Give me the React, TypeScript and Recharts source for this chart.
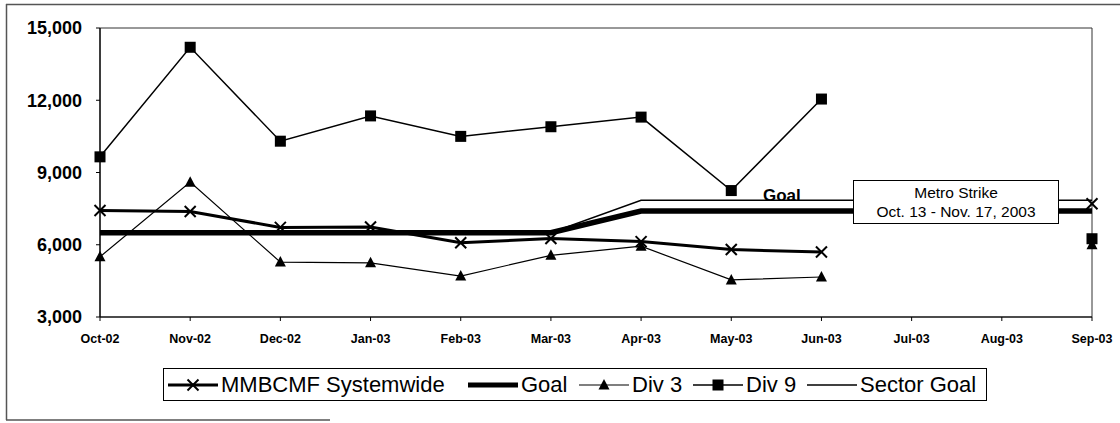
import React from 'react';
import { LineChart, Line, XAxis, YAxis, ReferenceArea } from 'recharts';

const months = ['Oct-02', 'Nov-02', 'Dec-02', 'Jan-03', 'Feb-03', 'Mar-03', 'Apr-03', 'May-03', 'Jun-03', 'Jul-03', 'Aug-03', 'Sep-03'];
const systemwide: (number | null)[] = [7420, 7380, 6720, 6740, 6080, 6260, 6130, 5800, 5700, null, null, 7700];
const goal: (number | null)[] = [6500, 6500, 6500, 6500, 6500, 6500, 7400, 7400, 7400, 7400, 7400, 7400];
const div3: (number | null)[] = [5500, 8600, 5280, 5250, 4700, 5560, 5940, 4540, 4660, null, null, 6000];
const div9: (number | null)[] = [9650, 14200, 10300, 11350, 10500, 10900, 11300, 8250, 12050, null, null, 6250];
const sectorGoal: (number | null)[] = [6500, 6500, 6500, 6500, 6500, 6500, 7850, 7850, 7850, 7850, 7850, 7850];
const yTicks = [3000, 6000, 9000, 12000, 15000];

const seriesNames = ['MMBCMF Systemwide', 'Goal', 'Div 3', 'Div 9', 'Sector Goal'];

const data = months.map((m, i) => ({
  month: m,
  systemwide: systemwide[i],
  goal: goal[i],
  div3: div3[i],
  div9: div9[i],
  sectorGoal: sectorGoal[i],
}));

const FONT = '"Liberation Sans", Arial, sans-serif';

const XMark = ({ cx, cy }: { cx: number; cy: number }) => (
  <g>
    <line x1={cx - 5.5} y1={cy - 5.5} x2={cx + 5.5} y2={cy + 5.5} stroke="#000" strokeWidth={2} />
    <line x1={cx - 5.5} y1={cy + 5.5} x2={cx + 5.5} y2={cy - 5.5} stroke="#000" strokeWidth={2} />
  </g>
);
const TriMark = ({ cx, cy }: { cx: number; cy: number }) => (
  <polygon points={`${cx},${cy - 6} ${cx - 5.5},${cy + 4.5} ${cx + 5.5},${cy + 4.5}`} fill="#000" />
);
const SqMark = ({ cx, cy }: { cx: number; cy: number }) => (
  <rect x={cx - 5.5} y={cy - 5.5} width={11} height={11} fill="#000" />
);

const makeDot = (Comp: any, name: string) => (props: any) => {
  const { cx, cy, index } = props;
  if (cx == null || cy == null || props.value == null || Number.isNaN(cy)) return <g key={`${name}-${index}`} />;
  return (
    <g key={`${name}-${index}`}>
      <Comp cx={cx} cy={cy} />
    </g>
  );
};

const LegendSwatch = ({ kind }: { kind: number }) => {
  const w = 50;
  return (
    <svg width={w} height={20} style={{ display: 'block' }}>
      {kind === 0 && (
        <>
          <line x1={0} y1={10} x2={w} y2={10} stroke="#000" strokeWidth={3} />
          <XMark cx={w / 2} cy={10} />
        </>
      )}
      {kind === 1 && <line x1={0} y1={10} x2={w} y2={10} stroke="#000" strokeWidth={5} />}
      {kind === 2 && (
        <>
          <line x1={0} y1={10} x2={w} y2={10} stroke="#000" strokeWidth={1.2} />
          <TriMark cx={w / 2} cy={10} />
        </>
      )}
      {kind === 3 && (
        <>
          <line x1={0} y1={10} x2={w} y2={10} stroke="#000" strokeWidth={1.5} />
          <SqMark cx={w / 2} cy={10} />
        </>
      )}
      {kind === 4 && <line x1={0} y1={10} x2={w} y2={10} stroke="#000" strokeWidth={1.5} />}
    </svg>
  );
};

const legendLefts = [4, 304, 415, 529, 643];

export default function App() {
  return (
    <div style={{ position: 'absolute', left: 0, top: 0, width: 1120, height: 423, background: '#fff', fontFamily: FONT }}>
      <LineChart
        width={1120}
        height={423}
        data={data}
        margin={{ top: 28, right: 28, left: 0, bottom: 76 }}
      >
        <ReferenceArea x1="Oct-02" x2="Sep-03" y1={3000} y2={15000} fill="none" stroke="#333" strokeWidth={1} ifOverflow="visible" />
        <XAxis
          dataKey="month"
          interval={0}
          height={30}
          tickSize={4}
          tickMargin={13}
          axisLine={{ stroke: '#000', strokeWidth: 1.2 }}
          tickLine={{ stroke: '#000' }}
          tick={{ fill: '#000', fontSize: 12.5, fontWeight: 700, fontFamily: FONT }}
        />
        <YAxis
          domain={[3000, 15000]}
          ticks={yTicks}
          width={100}
          tickSize={4}
          tickMargin={14}
          axisLine={{ stroke: '#000', strokeWidth: 1.2 }}
          tickLine={{ stroke: '#000' }}
          tick={{ fill: '#000', fontSize: 18, fontWeight: 700, fontFamily: FONT }}
          tickFormatter={(v: number) => v.toLocaleString('en-US')}
        />
        <Line dataKey="systemwide" name={seriesNames[0]} stroke="#000" strokeWidth={3} dot={makeDot(XMark, 'sw')} isAnimationActive={false} connectNulls={false} />
        <Line dataKey="goal" name={seriesNames[1]} stroke="#000" strokeWidth={5.5} dot={false} isAnimationActive={false} />
        <Line dataKey="div3" name={seriesNames[2]} stroke="#000" strokeWidth={1.2} dot={makeDot(TriMark, 'd3')} isAnimationActive={false} connectNulls={false} />
        <Line dataKey="div9" name={seriesNames[3]} stroke="#000" strokeWidth={1.5} dot={makeDot(SqMark, 'd9')} isAnimationActive={false} connectNulls={false} />
        <Line dataKey="sectorGoal" name={seriesNames[4]} stroke="#000" strokeWidth={1.5} dot={false} isAnimationActive={false} />
      </LineChart>

      <svg width={1120} height={423} style={{ position: 'absolute', left: 0, top: 0, pointerEvents: 'none' }}>
        <line x1={6.5} y1={4} x2={6.5} y2={420} stroke="#555" strokeWidth={1.5} />
        <line x1={6} y1={4.5} x2={1120} y2={4.5} stroke="#555" strokeWidth={1.5} />
        <line x1={6} y1={420} x2={330} y2={420} stroke="#555" strokeWidth={1.5} />
        <text x={763} y={201} fontFamily={FONT} fontSize={17} fontWeight={700} fill="#000">Goal</text>
        <rect x={853.5} y={180.5} width={205} height={43} fill="#fff" stroke="#000" strokeWidth={1} />
        <text x={956} y={198} textAnchor="middle" fontFamily={FONT} fontSize={15.5} fill="#000">Metro Strike</text>
        <text x={956} y={217} textAnchor="middle" fontFamily={FONT} fontSize={15.5} fill="#000">Oct. 13 - Nov. 17, 2003</text>
      </svg>

      <div
        style={{
          position: 'absolute',
          left: 163,
          top: 368,
          width: 824,
          height: 33,
          border: '1px solid #000',
          boxSizing: 'border-box',
          background: '#fff',
        }}
      >
        {seriesNames.map((n, i) => (
          <div
            key={n}
            style={{
              position: 'absolute',
              left: legendLefts[i],
              top: 0,
              height: 31,
              display: 'flex',
              alignItems: 'center',
              whiteSpace: 'nowrap',
            }}
          >
            <LegendSwatch kind={i} />
            <span style={{ marginLeft: 3, fontSize: 22, fontFamily: FONT, color: '#000', lineHeight: '31px' }}>{n}</span>
          </div>
        ))}
      </div>
    </div>
  );
}
